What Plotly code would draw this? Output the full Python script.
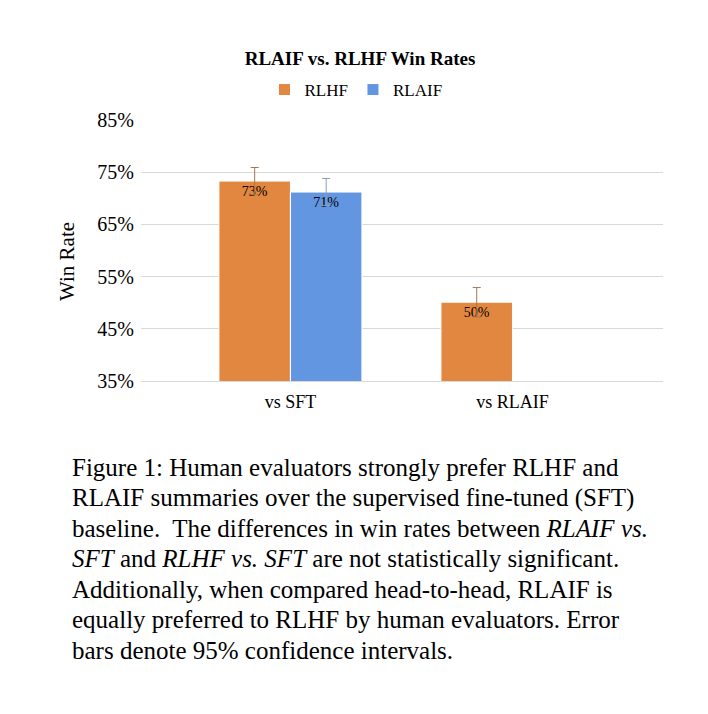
import plotly.graph_objects as go

categories = ["vs SFT", "vs RLAIF"]
rlhf = [73.3, 50.1]
rlaif = [71.2, None]
rlhf_err = [2.6, 2.8]
rlaif_err = [2.6, None]
y_ticks = [35, 45, 55, 65, 75, 85]
y_tick_labels = ["35%", "45%", "55%", "65%", "75%", "85%"]
caption_lines = [
    "Figure 1: Human evaluators strongly prefer RLHF and",
    "RLAIF summaries over the supervised fine-tuned (SFT)",
    "baseline.  The differences in win rates between <i>RLAIF vs.</i>",
    "<i>SFT</i> and <i>RLHF vs. SFT</i> are not statistically significant.",
    "Additionally, when compared head-to-head, RLAIF is",
    "equally preferred to RLHF by human evaluators. Error",
    "bars denote 95% confidence intervals.",
]

OFF = 8  # page body margin
W, H = 708 - OFF, 714 - OFF
# plot area in window pixels
L, R, T, B = 141, 663, 120, 381
FONT = "Liberation Serif, Times New Roman, serif"

def px_x(p):
    return (p - L) / (R - L)

def px_y(p):
    return (B - p) / (B - T)

def lab(vals):
    return [None if v is None else f"{round(v)}%" for v in vals]

ORANGE = "#E2873F"
BLUE = "#6396E1"

fig = go.Figure()
fig.add_trace(go.Bar(
    name="RLHF", x=categories, y=rlhf,
    marker=dict(color=ORANGE, line=dict(color="white", width=1)),
    error_y=dict(type="data", array=rlhf_err, color="#A8774F", thickness=1, width=4),
    text=lab(rlhf), textposition="inside", insidetextanchor="end", textangle=0,
    textfont=dict(family=FONT, size=14, color="black"), constraintext="none",
))
fig.add_trace(go.Bar(
    name="RLAIF", x=categories, y=rlaif,
    marker=dict(color=BLUE, line=dict(color="white", width=1)),
    error_y=dict(type="data", array=rlaif_err, color="#8C9DB8", thickness=1, width=4),
    text=lab(rlaif), textposition="inside", insidetextanchor="end", textangle=0,
    textfont=dict(family=FONT, size=14, color="black"), constraintext="none",
))

annotations = [
    dict(text="Win Rate", x=px_x(67), y=px_y(262), xref="paper", yref="paper",
         textangle=-90, showarrow=False, xanchor="center", yanchor="middle",
         font=dict(family=FONT, size=21, color="black")),
]
for i, line in enumerate(caption_lines):
    yb = 475 + i * 30.5
    annotations.append(dict(
        text=line, x=px_x(70), y=px_y(yb - 8), xref="paper", yref="paper",
        showarrow=False, xanchor="left", yanchor="middle", align="left",
        font=dict(family=FONT, size=25, color="black")))

fig.update_layout(
    width=W, height=H,
    margin=dict(l=L - OFF, r=W - (R - OFF), t=T - OFF, b=H - (B - OFF), pad=0),
    paper_bgcolor="white", plot_bgcolor="white",
    barmode="group", bargap=0.356, bargroupgap=0,
    title=dict(text="<b>RLAIF vs. RLHF Win Rates</b>", x=(360 - OFF) / W, xanchor="center",
               y=1 - (58 - OFF) / H, yanchor="middle", xref="container", yref="container",
               font=dict(family=FONT, size=19, color="black")),
    legend=dict(orientation="h", x=px_x(356), xanchor="center", y=px_y(90), yanchor="middle",
                font=dict(family=FONT, size=17, color="black"), itemwidth=30,
                traceorder="normal", bgcolor="rgba(0,0,0,0)"),
    font=dict(family=FONT, color="black"),
    annotations=annotations,
    xaxis=dict(type="category", range=[-0.673, 1.678], showgrid=False, zeroline=False,
               showline=True, linecolor="#D9D9D9", linewidth=1, ticks="",
               tickfont=dict(family=FONT, size=18, color="black"), ticklabelstandoff=4),
    yaxis=dict(range=[35, 85], tickvals=y_ticks, ticktext=y_tick_labels,
               showgrid=True, gridcolor="#D9D9D9", gridwidth=1, zeroline=False,
               showline=False, ticks="", ticklabelstandoff=6,
               tickfont=dict(family=FONT, size=20, color="black")),
)

fig.write_html("out.html")
